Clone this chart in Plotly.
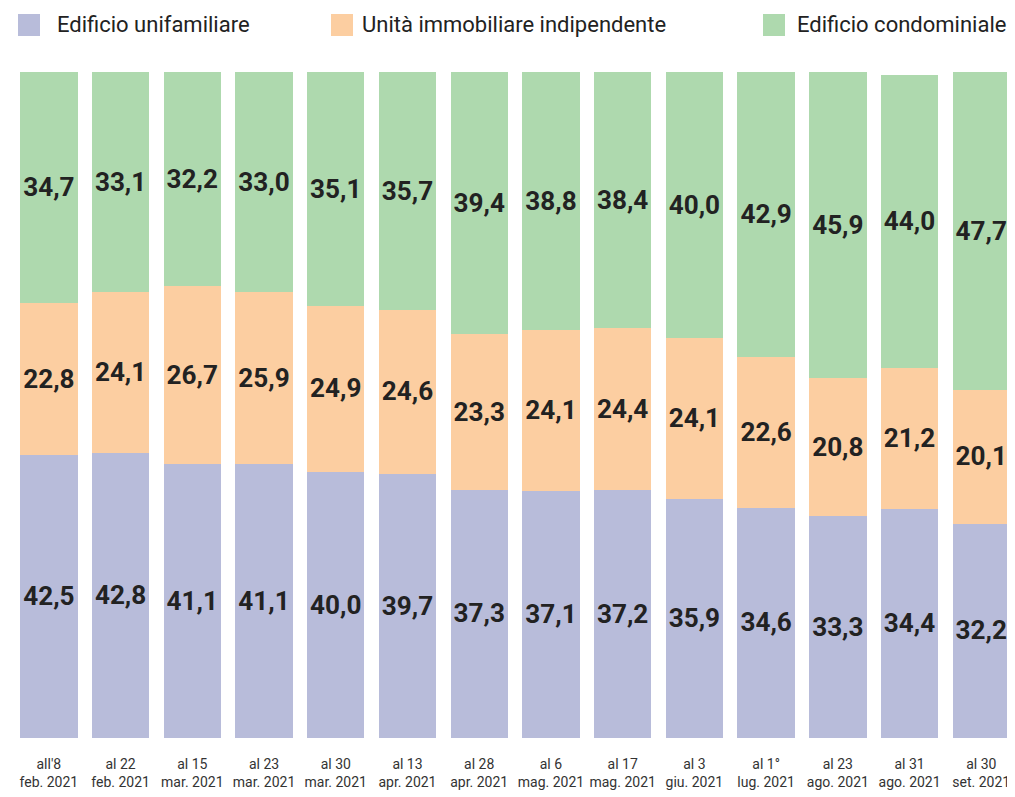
import plotly.graph_objects as go

categories = ["all'8<br>feb. 2021", "al 22<br>feb. 2021", "al 15<br>mar. 2021", "al 23<br>mar. 2021",
              "al 30<br>mar. 2021", "al 13<br>apr. 2021", "al 28<br>apr. 2021", "al 6<br>mag. 2021",
              "al 17<br>mag. 2021", "al 3<br>giu. 2021", "al 1°<br>lug. 2021", "al 23<br>ago. 2021",
              "al 31<br>ago. 2021", "al 30<br>set. 2021"]
unifamiliare = [42.5, 42.8, 41.1, 41.1, 40.0, 39.7, 37.3, 37.1, 37.2, 35.9, 34.6, 33.3, 34.4, 32.2]
indipendente = [22.8, 24.1, 26.7, 25.9, 24.9, 24.6, 23.3, 24.1, 24.4, 24.1, 22.6, 20.8, 21.2, 20.1]
condominiale = [34.7, 33.1, 32.2, 33.0, 35.1, 35.7, 39.4, 38.8, 38.4, 40.0, 42.9, 45.9, 44.0, 47.7]
series_names = ["Edificio unifamiliare", "Unità immobiliare indipendente", "Edificio condominiale"]
colors = ["#b8bcda", "#fccea1", "#aed9ae"]

FONT = "Roboto, Liberation Sans, sans-serif"

def fmt(v):
    return f"{v:.1f}".replace(".", ",")

fig = go.Figure()
for name, vals, col in zip(series_names, [unifamiliare, indipendente, condominiale], colors):
    fig.add_trace(go.Bar(
        x=list(range(len(categories))), y=vals, name=name,
        marker=dict(color=col, line=dict(width=0)),
        text=[fmt(v) for v in vals], textposition="inside", insidetextanchor="middle",
        textangle=0,
        textfont=dict(family=FONT, size=27, color="#222222", weight="bold"),
        showlegend=False,
    ))

# page body has an 8px margin: compensate so that the chart lands where the reference has it
OFF = 8
W, H = 1015 - OFF, 797 - OFF
L, R, T, B = 13 - OFF, 0, 72 - OFF, 59
pw, ph = W - L - R, H - T - B

def px_to_paper_x(px):
    return (px - OFF - L) / pw

def px_to_paper_y(py):
    return (H - B - (py - OFF)) / ph

legend_sq_x = [18, 331, 763]
legend_txt_x = [55, 360, 795]
shapes, annotations = [], []
for name, col, sx, tx in zip(series_names, colors, legend_sq_x, legend_txt_x):
    shapes.append(dict(type="rect", xref="paper", yref="paper",
                       x0=px_to_paper_x(sx), x1=px_to_paper_x(sx + 22),
                       y0=px_to_paper_y(36), y1=px_to_paper_y(14),
                       fillcolor=col, line=dict(width=0)))
    annotations.append(dict(text=name, xref="paper", yref="paper",
                            x=px_to_paper_x(tx), y=px_to_paper_y(25),
                            xanchor="left", yanchor="middle", showarrow=False,
                            font=dict(family=FONT, size=22, color="#222222")))

fig.update_layout(
    width=W, height=H,
    margin=dict(l=L, r=R, t=T, b=B, pad=0),
    barmode="stack", bargap=0.2,
    plot_bgcolor="white", paper_bgcolor="white",
    showlegend=False,
    shapes=shapes, annotations=annotations,
    uniformtext=dict(mode=False),
    xaxis=dict(tickmode="array", tickvals=list(range(len(categories))), ticktext=categories,
               range=[-0.5, 13.47], showgrid=False, zeroline=False, showline=False,
               ticks="outside", ticklen=13, tickcolor="rgba(0,0,0,0)",
               tickangle=0, automargin=False,
               tickfont=dict(family=FONT, size=14, color="#333333")),
    yaxis=dict(range=[0, 100], visible=False, showgrid=False, zeroline=False),
)

fig.write_html("out.html")
